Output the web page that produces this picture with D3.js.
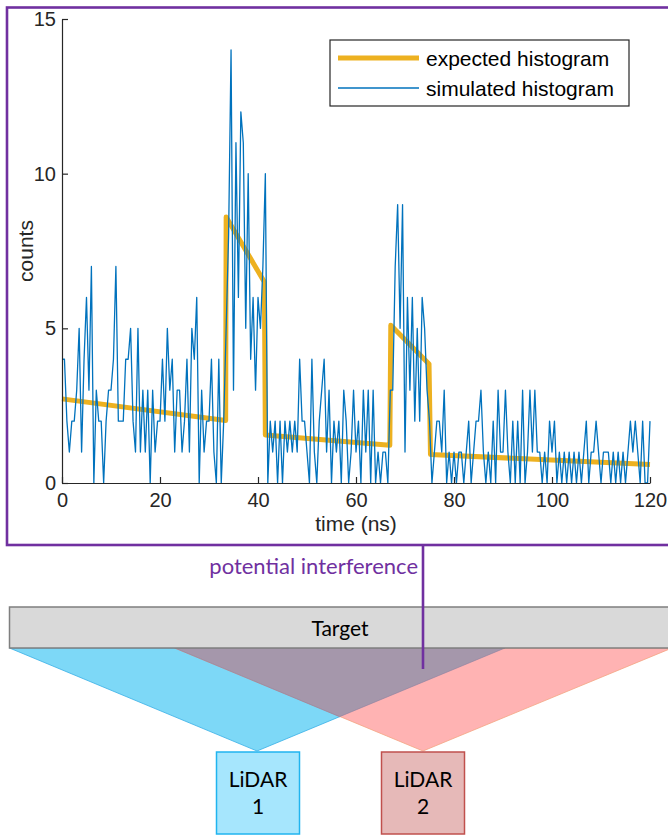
<!DOCTYPE html>
<html>
<head>
<meta charset="utf-8">
<script src="https://cdn.jsdelivr.net/npm/d3@7"></script>
<style>
  body { margin: 0; background: #fff; }
  svg { display: block; }
</style>
</head>
<body>
<div class="diagram-canvas"></div>
<script>
// simulated histogram, 0.5 ns bins from 0 to 120 ns
let binWidth = 0.5;
let simCounts = [
  4, 4, 2, 1, 2, 2, 3, 5, 1, 4,
  6, 3, 7, 0, 3, 2, 2, 0, 2, 3,
  3, 4, 7, 2, 2, 2, 4, 4, 5, 2,
  1, 5, 1, 3, 1, 3, 0, 3, 1, 2,
  2, 4, 2, 5, 3, 4, 1, 3, 3, 1,
  2, 4, 1, 5, 4, 6, 0, 3, 1, 2,
  2, 4, 1, 0, 4, 0, 2, 5, 8, 14,
  3, 11, 6, 12, 11, 5, 10, 4, 6, 3,
  6, 5, 7, 10, 0, 2, 1, 2, 0, 2,
  0, 2, 1, 2, 1, 2, 1, 4, 2, 2,
  1, 0, 4, 1, 0, 2, 3, 4, 1, 3,
  0, 2, 1, 2, 0, 3, 2, 0, 1, 3,
  1, 2, 0, 3, 1, 3, 0, 3, 0, 1,
  0, 1, 1, 0, 3, 3, 7, 9, 5, 9,
  1, 6, 3, 6, 2, 5, 2, 6, 5, 3,
  2, 0, 1, 2, 2, 1, 3, 0, 1, 0,
  1, 0, 1, 1, 0, 1, 2, 0, 1, 2,
  2, 3, 1, 0, 1, 0, 2, 0, 3, 1,
  1, 3, 1, 0, 2, 0, 2, 0, 3, 0,
  1, 3, 1, 3, 1, 1, 0, 1, 0, 2,
  1, 2, 0, 1, 0, 1, 0, 1, 0, 1,
  0, 1, 0, 1, 2, 0, 1, 1, 2, 1,
  0, 1, 1, 1, 0, 1, 0, 1, 0, 1,
  0, 1, 2, 1, 2, 1, 0, 2, 0, 0,
  2
];

// expected histogram (piecewise)
let expTime = [0, 33.4, 33.5, 41.3, 41.5, 66.9, 67.1, 74.9, 75.2, 120];
let expCount = [2.72, 2.02, 8.6, 6.5, 1.55, 1.22, 5.1, 3.85, 0.92, 0.6];

let xTicks = [0, 20, 40, 60, 80, 100, 120];
let yTicks = [0, 5, 10, 15];
let legendLabels = ["expected histogram", "simulated histogram"];

let width = 668,
  height = 835;

let purple = "#7030a0",
  yellow = "#edb120",
  blue = "#0072bd",
  axisColor = "#262626",
  plotFont = "'Liberation Sans', Arial, Helvetica, sans-serif",
  diagFont = "Lato, 'Open Sans', sans-serif";

let svg = d3
  .select(".diagram-canvas")
  .append("svg")
  .attr("width", width)
  .attr("height", height);

svg.append("rect").attr("width", width).attr("height", height).attr("fill", "#fff");

// frame around the histogram plot
svg
  .append("rect")
  .attr("x", 7)
  .attr("y", 7.5)
  .attr("width", 680)
  .attr("height", 537.5)
  .attr("fill", "none")
  .attr("stroke", purple)
  .attr("stroke-width", 2.6);

let xScale = d3.scaleLinear().domain([0, 120]).range([62, 650]);
let yScale = d3.scaleLinear().domain([0, 15]).range([483, 19]);

let xAxis = d3
  .axisBottom(xScale)
  .tickValues(xTicks)
  .tickSizeInner(-6)
  .tickSizeOuter(0)
  .tickPadding(10)
  .tickFormat(d3.format("d"));

let yAxis = d3
  .axisLeft(yScale)
  .tickValues(yTicks)
  .tickSizeInner(-6)
  .tickSizeOuter(0)
  .tickPadding(6)
  .tickFormat(d3.format("d"));

// expected histogram first, simulated on top
let simData = simCounts.map((c, i) => ({ t: i * binWidth, c: c }));
let expData = expTime.map((t, i) => ({ t: t, c: expCount[i] }));

let line = d3
  .line()
  .x((d) => xScale(d.t))
  .y((d) => yScale(d.c));

svg
  .append("path")
  .datum(expData)
  .attr("d", line)
  .attr("fill", "none")
  .attr("stroke", yellow)
  .attr("stroke-width", 5)
  .attr("stroke-linejoin", "round");

svg
  .append("path")
  .datum(simData)
  .attr("d", line)
  .attr("fill", "none")
  .attr("stroke", blue)
  .attr("stroke-width", 1.3)
  .attr("stroke-linejoin", "round");

let gx = svg
  .append("g")
  .attr("transform", "translate(0," + yScale(0) + ")")
  .call(xAxis);
let gy = svg
  .append("g")
  .attr("transform", "translate(" + xScale(0) + ",0)")
  .call(yAxis);

[gx, gy].forEach((g) => {
  g.select(".domain").attr("stroke", axisColor).attr("stroke-width", 1.2);
  g.selectAll(".tick line").attr("stroke", axisColor).attr("stroke-width", 1.2);
  g.selectAll(".tick text")
    .attr("fill", axisColor)
    .style("font-family", plotFont)
    .style("font-size", "20px");
});

svg
  .append("text")
  .attr("x", 356)
  .attr("y", 531)
  .attr("text-anchor", "middle")
  .attr("fill", axisColor)
  .style("font-family", plotFont)
  .style("font-size", "21px")
  .text("time (ns)");

svg
  .append("text")
  .attr("transform", "translate(33,251) rotate(-90)")
  .attr("text-anchor", "middle")
  .attr("fill", axisColor)
  .style("font-family", plotFont)
  .style("font-size", "21px")
  .text("counts");

// legend
let legend = svg.append("g").attr("id", "legend");
legend
  .append("rect")
  .attr("x", 330)
  .attr("y", 40)
  .attr("width", 299)
  .attr("height", 66)
  .attr("fill", "#fff")
  .attr("stroke", axisColor)
  .attr("stroke-width", 1.2);

let legendColors = [yellow, blue],
  legendWidths = [5, 1.3];

legend
  .selectAll("line")
  .data(legendLabels)
  .enter()
  .append("line")
  .attr("x1", 338)
  .attr("x2", 419)
  .attr("y1", (d, i) => 58 + i * 30)
  .attr("y2", (d, i) => 58 + i * 30)
  .attr("stroke", (d, i) => legendColors[i])
  .attr("stroke-width", (d, i) => legendWidths[i]);

legend
  .selectAll("text")
  .data(legendLabels)
  .enter()
  .append("text")
  .attr("x", 426)
  .attr("y", (d, i) => 66 + i * 29.5)
  .attr("fill", "#000")
  .style("font-family", plotFont)
  .style("font-size", "21px")
  .text((d) => d);

// bottom sketch: target and two LiDAR fields of view
let targetTop = 607,
  targetBottom = 648,
  apexY = 751;

svg
  .append("polygon")
  .attr("points", [[9.5, targetBottom], [505, targetBottom], [257, apexY]].join(" "))
  .attr("fill", "#7dd8f7")
  .attr("stroke", "#36aee6")
  .attr("stroke-width", 0.8);

svg
  .append("polygon")
  .attr("points", [[174.7, targetBottom], [672, targetBottom], [423, apexY]].join(" "))
  .attr("fill", "#ffb3b3")
  .attr("stroke", "#f4a582")
  .attr("stroke-width", 0.8);

svg
  .append("polygon")
  .attr("points", [[174.7, targetBottom], [505, targetBottom], [339.6, 716.7]].join(" "))
  .attr("fill", "#a597ab")
  .attr("stroke", "#8a7fa0")
  .attr("stroke-width", 0.6);

svg
  .append("rect")
  .attr("x", 9.5)
  .attr("y", targetTop)
  .attr("width", 680)
  .attr("height", targetBottom - targetTop)
  .attr("fill", "#d9d9d9")
  .attr("stroke", "#7f7f7f")
  .attr("stroke-width", 1.5);

svg
  .append("text")
  .attr("x", 340)
  .attr("y", 636)
  .attr("text-anchor", "middle")
  .attr("fill", "#000")
  .style("font-family", diagFont)
  .style("font-size", "21px")
  .text("Target");

svg
  .append("line")
  .attr("x1", 423)
  .attr("x2", 423)
  .attr("y1", 545)
  .attr("y2", 669)
  .attr("stroke", purple)
  .attr("stroke-width", 2.6);

svg
  .append("text")
  .attr("x", 418)
  .attr("y", 574)
  .attr("text-anchor", "end")
  .attr("fill", purple)
  .style("font-family", diagFont)
  .style("font-size", "22px")
  .text("potential interference");

let lidars = [
  { label: "1", x: 216.5, fill: "#a6e6fd", stroke: "#20b4ef" },
  { label: "2", x: 381.5, fill: "#e6b9b8", stroke: "#c0504d" },
];

let lidar = svg
  .selectAll(".lidar")
  .data(lidars)
  .enter()
  .append("g")
  .attr("class", "lidar");

lidar
  .append("rect")
  .attr("x", (d) => d.x)
  .attr("y", 752)
  .attr("width", 83)
  .attr("height", 82)
  .attr("fill", (d) => d.fill)
  .attr("stroke", (d) => d.stroke)
  .attr("stroke-width", 1.5);

lidar
  .append("text")
  .attr("x", (d) => d.x + 41.5)
  .attr("y", 787)
  .attr("text-anchor", "middle")
  .style("font-family", diagFont)
  .style("font-size", "21px")
  .text("LiDAR");

lidar
  .append("text")
  .attr("x", (d) => d.x + 41.5)
  .attr("y", 814)
  .attr("text-anchor", "middle")
  .style("font-family", diagFont)
  .style("font-size", "21px")
  .text((d) => d.label);
</script>
</body>
</html>
